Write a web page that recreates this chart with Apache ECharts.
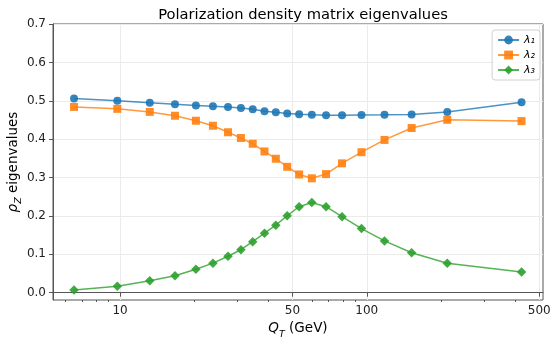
<!DOCTYPE html>
<html>
<head>
<meta charset="utf-8">
<script src="https://cdn.jsdelivr.net/npm/echarts@6/dist/echarts.min.js"></script>
<style>
  html, body { margin: 0; padding: 0; background: #fff; }
  #chart { width: 552px; height: 338px; }
</style>
</head>
<body>
<div id="chart"></div>
<script>
// bin centres in GeV
const qT = [6.51, 9.75, 13.2, 16.7, 20.3, 23.8, 27.4, 30.9, 34.5, 38.5, 42.8,
  47.6, 53.2, 59.9, 68.4, 79.4, 95.2, 118, 152, 212, 424]

const lambda1 = [0.506, 0.500, 0.495, 0.491, 0.488, 0.486, 0.484, 0.481, 0.478,
  0.473, 0.470, 0.467, 0.465, 0.4635, 0.462, 0.462, 0.463, 0.4635, 0.4645, 0.4705, 0.496]
const lambda2 = [0.484, 0.479, 0.471, 0.461, 0.448, 0.435, 0.418, 0.403, 0.388,
  0.368, 0.349, 0.328, 0.308, 0.298, 0.309, 0.337, 0.366, 0.398, 0.429, 0.4505, 0.447]
const lambda3 = [0.007, 0.017, 0.031, 0.044, 0.061, 0.077, 0.095, 0.112, 0.133,
  0.155, 0.176, 0.2005, 0.224, 0.235, 0.224, 0.198, 0.167, 0.135, 0.104, 0.0766, 0.054]

const seriesNames = ["λ₁", "λ₂", "λ₃"]
const xMajorTicks = [10, 50, 100, 500]
const xMinorTicks = [6, 7, 8, 9, 20, 30, 40, 60, 70, 80, 90, 200, 300, 400]
const yTicks = [0, 0.1, 0.2, 0.3, 0.4, 0.5, 0.6, 0.7]

const FONT = "DejaVu Sans"
const AXIS_COLOR = "#555"
const GRID_COLOR = "#ebebeb"

const chart = echarts.init(document.getElementById("chart"), null, { renderer: "canvas" })

function line(name, values, color, symbol, size) {
  return {
    name: name,
    type: "line",
    xAxisIndex: 0,
    data: qT.map((q, i) => [q, values[i]]),
    symbol: symbol,
    symbolSize: size,
    showAllSymbol: true,
    animation: false,
    lineStyle: { color: color, width: 1.5, opacity: 0.8 },
    itemStyle: { color: color, opacity: 0.9 },
    emphasis: { disabled: true },
  }
}

const subRich = {
  i: { fontFamily: FONT, fontSize: 13.5, fontStyle: "italic", color: "#000", verticalAlign: "top" },
  s: { fontFamily: FONT, fontSize: 9.5, fontStyle: "italic", color: "#000", verticalAlign: "bottom", lineHeight: 18 },
  n: { fontFamily: FONT, fontSize: 13.5, color: "#000", verticalAlign: "top" },
}

const option = {
  animation: false,
  textStyle: { fontFamily: FONT },
  title: {
    text: "Polarization density matrix eigenvalues",
    left: 298,
    top: 3,
    textAlign: "center",
    textStyle: { fontFamily: FONT, fontSize: 14.7, fontWeight: "normal", color: "#000" },
  },
  grid: {
    left: 53, right: 9, top: 24, bottom: 38,
    outerBoundsMode: "none",
    containLabel: false,
    show: true, borderColor: AXIS_COLOR, borderWidth: 1, backgroundColor: "transparent",
  },
  legend: {
    orient: "vertical",
    right: 12,
    top: 30,
    padding: [3, 5, 3, 5],
    itemWidth: 21,
    itemHeight: 11,
    itemGap: 1,
    borderColor: "#d0d0d0",
    borderWidth: 1,
    borderRadius: 3,
    backgroundColor: "rgba(255,255,255,0.8)",
    textStyle: { fontFamily: FONT, fontSize: 11, fontStyle: "italic", color: "#000", lineHeight: 14 },
    data: seriesNames,
  },
  xAxis: [
    {
      type: "log",
      min: 5.35,
      max: 518,
      name: "{i|Q}{s|T}{n| (GeV)}",
      nameLocation: "middle",
      nameGap: 20,
      nameTextStyle: { rich: subRich },
      axisLine: { show: true, lineStyle: { color: AXIS_COLOR, width: 1 } },
      axisTick: { show: true, customValues: xMajorTicks, length: 4, lineStyle: { color: AXIS_COLOR } },
      axisLabel: { customValues: xMajorTicks, fontFamily: FONT, fontSize: 12, color: "#222", margin: 5 },
      splitLine: { show: true, lineStyle: { color: GRID_COLOR, width: 1 } },
    },
    {
      type: "log",
      min: 5.35,
      max: 518,
      position: "bottom",
      axisLine: { show: false },
      axisTick: { show: true, customValues: xMinorTicks, length: 2, lineStyle: { color: AXIS_COLOR } },
      axisLabel: { show: false },
      splitLine: { show: false },
    },
  ],
  yAxis: {
    type: "value",
    min: -0.019,
    max: 0.7,
    name: "{i|ρ}{s|Z}{n| eigenvalues}",
    nameLocation: "middle",
    nameGap: 29,
    nameMoveOverlap: false,
    nameTextStyle: { rich: subRich },
    axisLine: { show: true, lineStyle: { color: AXIS_COLOR, width: 1 } },
    axisTick: { show: true, customValues: yTicks, length: 4, lineStyle: { color: AXIS_COLOR } },
    axisLabel: {
      customValues: yTicks, fontFamily: FONT, fontSize: 12, color: "#222", margin: 7,
      formatter: v => v.toFixed(1),
    },
    splitLine: { show: true, lineStyle: { color: GRID_COLOR, width: 1 } },
  },
  series: [
    line(seriesNames[0], lambda1, "#1f77b4", "circle", 8),
    line(seriesNames[1], lambda2, "#ff7f0e", "rect", 8),
    line(seriesNames[2], lambda3, "#2ca02c", "diamond", 9.5),
  ],
}

chart.setOption(option)
</script>
</body>
</html>
